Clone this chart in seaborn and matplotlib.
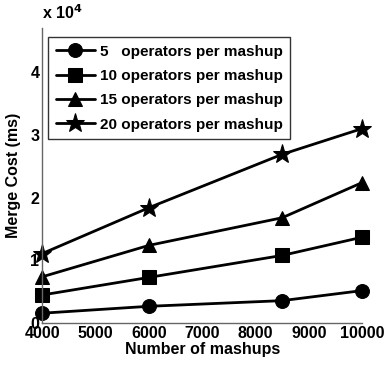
import matplotlib
matplotlib.use("Agg")
import matplotlib.pyplot as plt
import seaborn as sns
import pandas as pd

mashups = [4000, 6000, 8500, 10000]
series_names = ["5   operators per mashup", "10 operators per mashup",
                "15 operators per mashup", "20 operators per mashup"]
cost_5 = [1600, 2700, 3600, 5200]
cost_10 = [4500, 7300, 10800, 13700]
cost_15 = [7400, 12400, 16800, 22400]
cost_20 = [11100, 18400, 26900, 31000]
y_ticks = [0, 10000, 20000, 30000, 40000]
y_tick_labels = ["0", "1", "2", "3", "4"]
x_ticks = [4000, 5000, 6000, 7000, 8000, 9000, 10000]

rows = []
for name, vals in zip(series_names, [cost_5, cost_10, cost_15, cost_20]):
    for x, v in zip(mashups, vals):
        rows.append({"mashups": x, "cost": v, "series": name})
df = pd.DataFrame(rows)

sns.set_style("white")
plt.rcParams["font.family"] = ["Liberation Sans", "DejaVu Sans"]
plt.rcParams["font.weight"] = "bold"
plt.rcParams["text.color"] = "black"
plt.rcParams["xtick.color"] = "black"
plt.rcParams["ytick.color"] = "black"
plt.rcParams["axes.labelcolor"] = "black"

FS = 11.5

fig = plt.figure(figsize=(3.84, 3.75), dpi=100)
ax = fig.add_axes([0.11, 0.138, 0.833, 0.787])

sns.lineplot(data=df, x="mashups", y="cost", style="series", markers=["o", "s", "^", "*"],
             dashes=False, color="black", linewidth=2.0, markersize=10, ax=ax,
             markeredgecolor="black", clip_on=False)
for line in ax.get_lines():
    if line.get_marker() == "*":
        line.set_markersize(14)

ax.set_xlim(4000, 10000)
ax.set_ylim(0, 47000)
ax.set_xticks(x_ticks)
ax.set_xticklabels([str(t) for t in x_ticks], fontsize=FS, fontweight="bold")
ax.set_yticks(y_ticks)
ax.set_yticklabels(y_tick_labels, fontsize=FS, fontweight="bold")
ax.tick_params(direction="in", length=4, width=0.8, color="#555555", pad=2)
for s in ["top", "right"]:
    ax.spines[s].set_visible(False)
for s in ["left", "bottom"]:
    ax.spines[s].set_color("#666666")
    ax.spines[s].set_linewidth(1.0)

ax.set_xlabel("Number of mashups", fontsize=FS, fontweight="bold", labelpad=1)
ax.set_ylabel("Merge Cost (ms)", fontsize=FS, fontweight="bold", labelpad=7)
ax.text(0.0, 1.02, "x 10$^4$", transform=ax.transAxes, fontsize=FS, fontweight="bold",
        ha="left", va="bottom")

handles, labels = ax.get_legend_handles_labels()
for h in handles:
    if h.get_marker() == "*":
        h.set_markersize(14)
leg = ax.legend(handles, labels, loc="upper left", bbox_to_anchor=(0.018, 0.97),
                frameon=True, fancybox=False, edgecolor="black", handlelength=2.6,
                prop={"weight": "bold", "size": 11}, borderpad=0.5, labelspacing=0.68,
                handletextpad=0.3, borderaxespad=0.0)
leg.get_frame().set_linewidth(1.0)

fig.savefig("out.png", dpi=100)
